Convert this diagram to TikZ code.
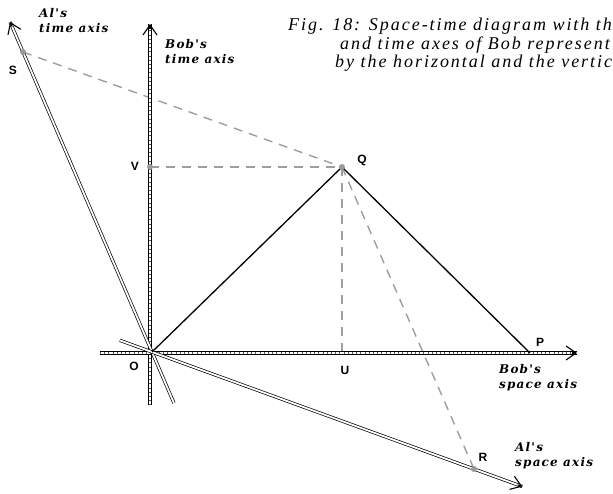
\documentclass[tikz,border=0pt]{standalone}
\usepackage{fontspec}
\setmainfont{Liberation Serif}
\newfontfamily\ptfont{Liberation Sans}
\newfontfamily\handfont[LetterSpace=10]{DejaVu Serif}
\usetikzlibrary{arrows.meta,calc}
\tikzset{
  axisline/.style={draw=black, line width=0.7pt, double=white, double distance=1.8pt},
  hatch/.style={draw=black!65, line width=1.8pt, dash pattern=on 0.7pt off 3.5pt},
  axistip/.style={-{Straight Barb[length=10pt,width=14pt,line width=1.1pt]}, line width=1.1pt},
  guide/.style={draw=black!38, line width=1.4pt, dash pattern=on 9pt off 7pt},
  edge/.style={draw=black, line width=1.3pt},
  dot/.style={circle, fill=black!40, inner sep=0pt, minimum size=6pt},
  ptlabel/.style={font=\ptfont\bfseries\fontsize{12}{12}\selectfont, inner sep=1pt},
  hand/.style={font=\handfont\bfseries\itshape\fontsize{12}{15}\selectfont, align=left, inner sep=0pt, anchor=north west},
  caption/.style={font=\addfontfeatures{LetterSpace=11}\itshape\fontsize{18}{18}\selectfont, inner sep=0pt, anchor=base west},
}

\begin{document}
\begin{tikzpicture}[x=1pt, y=-1pt]
\useasboundingbox (0,0) rectangle (613,494);

% ---- events ----
\coordinate (O) at (152,352);
\coordinate (Q) at (342,167);
\coordinate (P) at (530,353);
\coordinate (U) at (342,353);
\coordinate (V) at (150,167);
\coordinate (S) at (23,52);
\coordinate (R) at (474,469);

% ---- axis ends ----
\coordinate (btA) at (150,405);  \coordinate (btB) at (150,24);
\coordinate (bsA) at (100,353);  \coordinate (bsB) at (577,353);
\coordinate (atA) at ($(O)!-0.17!(S)$); \coordinate (atB) at ($(O)!1.1!(S)$);
\coordinate (asA) at ($(O)!-0.1!(R)$);  \coordinate (asB) at ($(O)!1.15!(R)$);

% ---- dashed construction lines ----
\draw[guide] (V) -- (Q);
\draw[guide] (Q) -- (U);
\draw[guide] (S) -- (Q);
\draw[guide] (Q) -- (R);

% ---- Bob's axes ----
\draw[axisline] (btA) -- (btB);  \draw[hatch] (btA) -- ($(btB)!6pt!(btA)$);
\draw[axistip] ($(btB)!5pt!(btA)$) -- (btB);
\draw[axisline] (bsA) -- (bsB);  \draw[hatch] (bsA) -- ($(bsB)!6pt!(bsA)$);
\draw[axistip] ($(bsB)!5pt!(bsA)$) -- (bsB);

% ---- Al's axes ----
\draw[axisline] (atA) -- (atB);
\draw[axistip] ($(atB)!5pt!(atA)$) -- (atB);
\draw[axisline] (asA) -- (asB);
\draw[axistip] ($(asB)!5pt!(asA)$) -- (asB);

% ---- light signals ----
\draw[edge] (O) -- (Q);
\draw[edge] (Q) -- (P);

% ---- marked points ----
\node[dot] (dS) at (S) {};
\node[dot] (dV) at (V) {};
\node[dot] (dQ) at (Q) {};
\node[dot] (dR) at (R) {};

\node[ptlabel] (lO) at (134,366) {O};
\node[ptlabel] (lU) at (345,370) {U};
\node[ptlabel] (lP) at (540,342) {P};
\node[ptlabel] (lQ) at (362,160) {Q};
\node[ptlabel] (lV) at (135,166) {V};
\node[ptlabel] (lS) at (13,70) {S};
\node[ptlabel] (lR) at (483,457) {R};

% ---- axis names ----
\node[hand] (nAt) at (39,8)    {Al's\\time axis};
\node[hand] (nBt) at (165,39)  {Bob's\\time axis};
\node[hand] (nBs) at (499,364) {Bob's\\space axis};
\node[hand] (nAs) at (515,442) {Al's\\space axis};

% ---- caption (as far as the picture shows it) ----
\node[caption] (cap1) at (288,31) {Fig. 18: Space-time diagram with th};
\node[caption] (cap2) at (340,50) {and time axes of Bob represent};
\node[caption] (cap3) at (335,68) {by the horizontal and the vertic};

\end{tikzpicture}
\end{document}
